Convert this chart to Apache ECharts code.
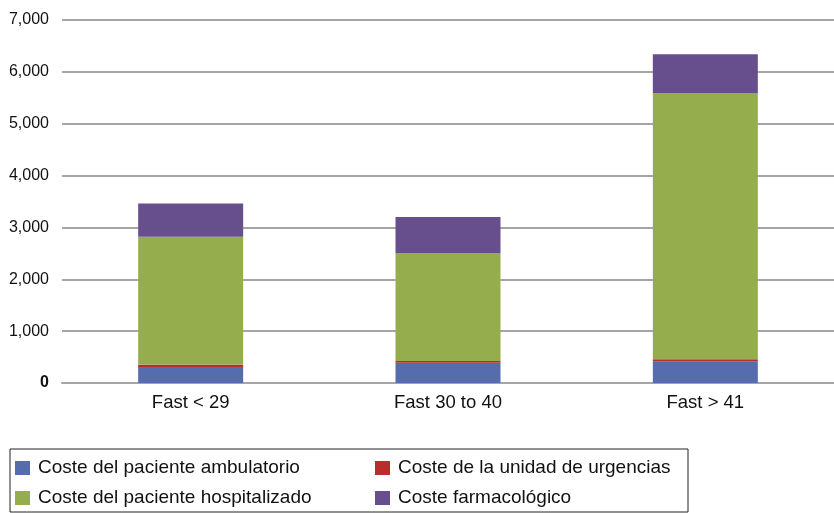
<!DOCTYPE html>
<html>
<head>
<meta charset="utf-8">
<script src="https://cdn.jsdelivr.net/npm/echarts@6/dist/echarts.min.js"></script>
<style>
  html, body { margin: 0; padding: 0; background: #fff; }
  #chart { width: 834px; height: 513px; }
</style>
</head>
<body>
<div id="chart"></div>
<script>
// Cost breakdown per group (stacked)
const categories = ['Fast < 29', 'Fast 30 to 40', 'Fast > 41'];
const seriesNames = [
  'Coste del paciente ambulatorio',
  'Coste de la unidad de urgencias',
  'Coste del paciente hospitalizado',
  'Coste farmacológico'
];
const ambulatorio = [310, 390, 420];
const urgencias = [40, 35, 40];
const hospitalizado = [2470, 2080, 5130];
const farmacologico = [640, 695, 750];
const yTicks = [0, 1000, 2000, 3000, 4000, 5000, 6000, 7000];

const colors = ['#566cac', '#b92e2d', '#96ad4e', '#674f8e'];
const values = [ambulatorio, urgencias, hospitalizado, farmacologico];
const font = '"Liberation Sans", Arial, Helvetica, sans-serif';

const chart = echarts.init(document.getElementById('chart'));

const fmt = v => v.toLocaleString('en-US');

chart.setOption({
  animation: false,
  backgroundColor: '#fff',
  grid: { left: 62, top: 20, width: 778.5, height: 363, containLabel: false },
  xAxis: {
    type: 'category',
    data: categories,
    axisLine: { show: true, lineStyle: { color: '#a5a5a5', width: 2 } },
    axisTick: { show: false },
    axisLabel: { color: '#111', fontSize: 18.5, fontFamily: font, margin: 10 }
  },
  yAxis: {
    type: 'value',
    min: yTicks[0],
    max: yTicks[yTicks.length - 1],
    interval: yTicks[1] - yTicks[0],
    axisLine: { show: false },
    axisTick: { show: false },
    splitLine: { show: true, lineStyle: { color: '#a5a5a5', width: 2 } },
    axisLabel: {
      color: '#111',
      fontSize: 16,
      fontFamily: font,
      margin: 13,
      formatter: v => (v === 0 ? '{z|0}' : fmt(v)),
      rich: { z: { fontWeight: 'bold', fontSize: 16, fontFamily: font, color: '#111' } }
    }
  },
  legend: {
    left: 10,
    top: 449,
    width: 680,
    orient: 'horizontal',
    padding: [9, 6, 4, 5],
    itemGap: 10,
    itemWidth: 15,
    itemHeight: 14,
    borderColor: '#222',
    borderWidth: 1,
    borderRadius: 0,
    icon: 'rect',
    textStyle: {
      fontSize: 19,
      fontFamily: font,
      color: '#111',
      lineHeight: 20,
      padding: [0, 0, 0, 3]
    },
    data: [
      { name: seriesNames[0], textStyle: { width: 327 } },
      { name: seriesNames[1], textStyle: { width: 284 } },
      { name: seriesNames[2], textStyle: { width: 327 } },
      { name: seriesNames[3], textStyle: { width: 284 } }
    ]
  },
  series: seriesNames.map((name, i) => ({
    name,
    type: 'bar',
    stack: 'total',
    barWidth: 105,
    data: values[i],
    itemStyle: { color: colors[i] },
    emphasis: { disabled: true }
  }))
});
</script>
</body>
</html>
